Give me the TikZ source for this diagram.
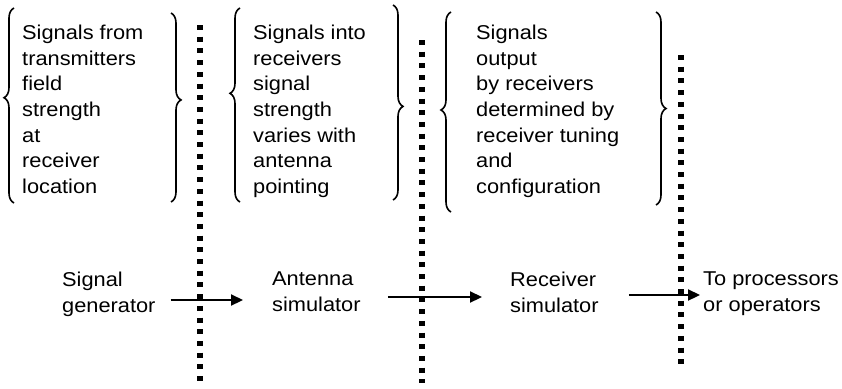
\documentclass[tikz,border=0pt]{standalone}
\usepackage{fontspec}
\setmainfont{Liberation Sans}[FakeStretch=1.09]
\usetikzlibrary{decorations.pathreplacing,arrows.meta,calc}
\begin{document}
\begin{tikzpicture}[x=1pt,y=-1pt,
  txt/.style={anchor=north west,inner sep=0pt,align=left,font=\fontsize{20}{25.6}\selectfont},
  brc/.style={decorate,decoration={brace,amplitude=10pt,aspect=#1},line width=1.6pt},
  dots/.style={line width=6pt,dash pattern=on 5pt off 6.7pt},
  arr/.style={line width=2.2pt,-{Triangle[length=12pt,width=11pt]}}]
\useasboundingbox[fill=white] (0,0) rectangle (842,388);

% upper explanatory blocks
\node[txt] (t1) at (22,25) {Signals from\\transmitters\\field\\strength\\at\\receiver\\location};
\node[txt] (t2) at (253,25) {Signals into\\receivers\\signal\\strength\\varies with\\antenna\\pointing};
\node[txt] (t3) at (476,25) {Signals\\output\\by receivers\\determined by\\receiver tuning\\and\\configuration};

% braces
\draw[brc=0.54] (14,203) -- (14,8);
\draw[brc=0.46] (171,13) -- (171,202);
\draw[brc=0.56] (240,202) -- (240,8);
\draw[brc=0.52] (393,5) -- (393,200);
\draw[brc=0.51] (451,212) -- (451,12);
\draw[brc=0.5] (656,12) -- (656,205);

% dotted separators
\coordinate (d1a) at (200,25);  \coordinate (d1b) at (200,381);
\coordinate (d2a) at (422,40);  \coordinate (d2b) at (422,383);
\coordinate (d3a) at (681,55);  \coordinate (d3b) at (681,365);
\draw[dots] (d1a) -- (d1b);
\draw[dots] (d2a) -- (d2b);
\draw[dots] (d3a) -- (d3b);

% lower chain
\node[txt] (gen) at (62,272) {Signal\\generator};
\node[txt] (ant) at (272,272) {Antenna\\simulator};
\node[txt] (rec) at (510,272) {Receiver\\simulator};
\node[txt] (out) at (703,272) {To processors\\or operators};

\draw[arr] ($(gen.north east)+(15,28)$) -- ($(ant.north west)+(-29,28)$);
\draw[arr] ($(ant.north east)+(27,25)$) -- ($(rec.north west)+(-28,25)$);
\draw[arr] ($(rec.north east)+(30,23)$) -- ($(out.north west)+(-3,23)$);
\end{tikzpicture}
\end{document}
